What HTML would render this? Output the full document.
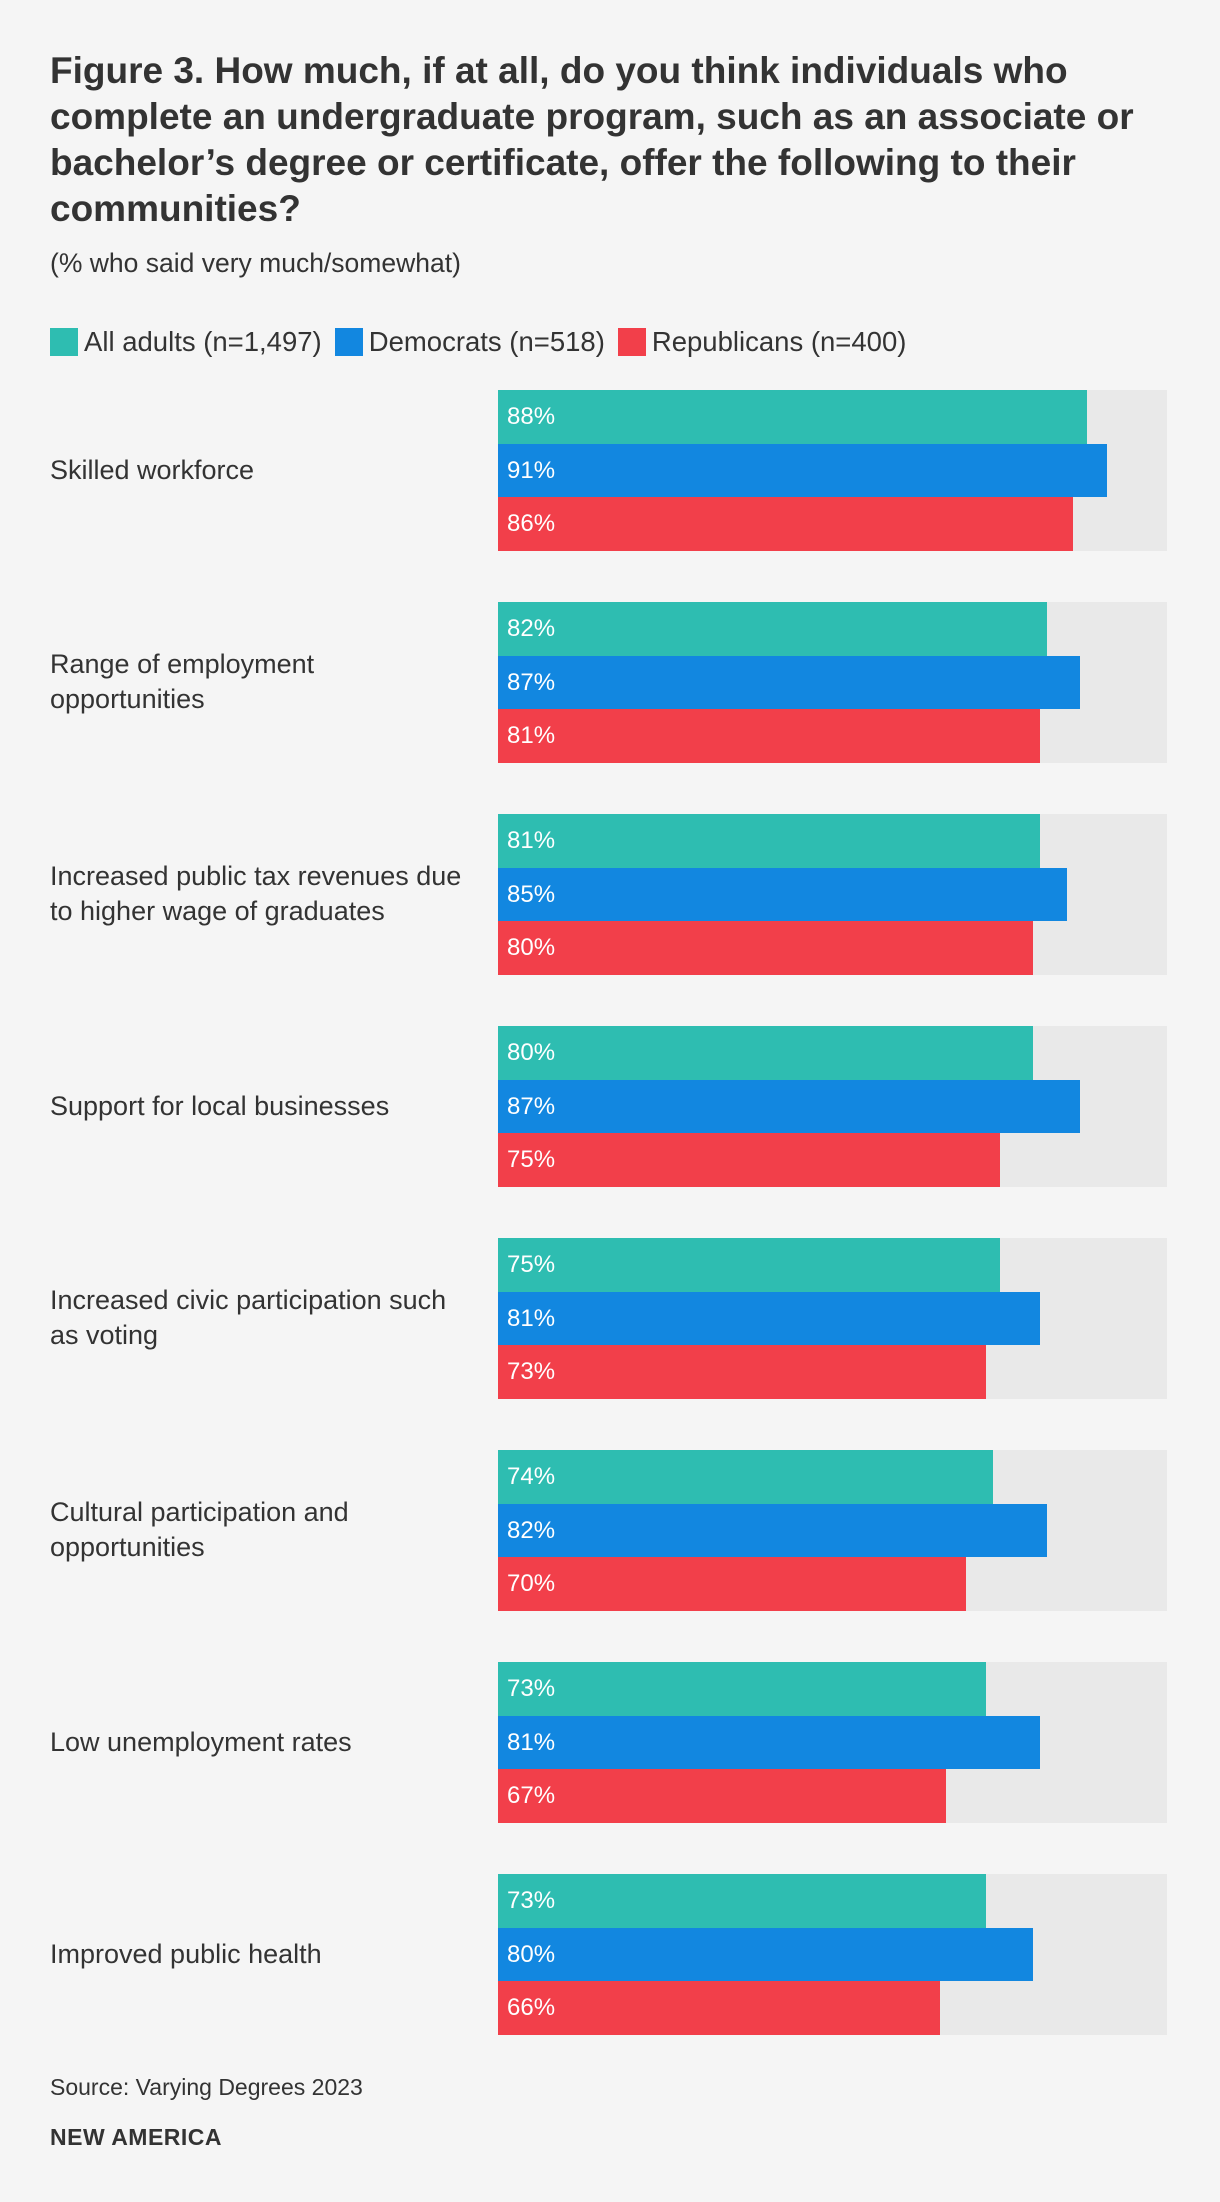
<!DOCTYPE html>
<html><head><meta charset="utf-8">
<style>
body{margin:0;background:#f5f5f5;font-family:"Liberation Sans",sans-serif;color:#333;}
#page{position:relative;width:1220px;height:2202px;overflow:hidden;background:#f5f5f5;}
.title{position:absolute;left:50px;top:48px;font-weight:bold;font-size:37px;line-height:46px;white-space:nowrap;color:#333;}
.sub{position:absolute;left:50px;top:248px;font-size:26.5px;color:#333;}
.legend{position:absolute;left:50px;top:326px;display:flex;align-items:center;font-size:27.5px;}
.legend .sw{width:28px;height:28px;display:inline-block;margin-right:6px;}
.legend .it{display:flex;align-items:center;margin-right:13px;}
.lab{position:absolute;left:50px;width:440px;font-size:27px;line-height:35px;display:flex;align-items:center;}
.val{position:absolute;color:#fff;font-size:24px;}
.src{position:absolute;left:50px;top:2074px;font-size:23px;}
.brand{position:absolute;left:50px;top:2124px;font-size:23px;font-weight:bold;letter-spacing:0.5px;}
</style></head><body>
<div id="page">
<div class="title">Figure 3. How much, if at all, do you think individuals who<br>complete an undergraduate program, such as an associate or<br>bachelor’s degree or certificate, offer the following to their<br>communities?</div>
<div class="sub">(% who said very much/somewhat)</div>
<div class="legend">
<span class="it"><span class="sw" style="background:#2ebdb1"></span>All adults (n=1,497)</span>
<span class="it"><span class="sw" style="background:#1287e0"></span>Democrats (n=518)</span>
<span class="it"><span class="sw" style="background:#f23f4a"></span>Republicans (n=400)</span>
</div>
<div id="chart"></div>
<div class="src">Source: Varying Degrees 2023</div>
<div class="brand">NEW AMERICA</div>
</div>
<script>
const categories=["Skilled workforce","Range of employment<br>opportunities","Increased public tax revenues due<br>to higher wage of graduates","Support for local businesses","Increased civic participation such<br>as voting","Cultural participation and<br>opportunities","Low unemployment rates","Improved public health"];
const allAdults=[88,82,81,80,75,74,73,73];
const democrats=[91,87,85,87,81,82,81,80];
const republicans=[86,81,80,75,73,70,67,66];
const seriesColors=["#2ebdb1","#1287e0","#f23f4a"];
const seriesNames=["all-adults","democrats","republicans"];
const series=[allAdults,democrats,republicans];
const X0=498,W=669,TOP=390,PITCH=212,BH=53.6;
const xScale=v=>v/100*W;
const chart=document.getElementById('chart');
categories.forEach((c,i)=>{
  const gy=TOP+i*PITCH;
  const bg=document.createElement('div');
  
  
  bg.style.cssText=`position:absolute;left:${X0}px;top:${gy}px;width:${W}px;height:${BH*3}px;background:#e9e9e9`;
  chart.appendChild(bg);
  const lab=document.createElement('div');
  lab.className='lab';
  
  
  lab.style.top=gy+'px';lab.style.height=(BH*3)+'px';
  lab.innerHTML='<span>'+c+'</span>';
  chart.appendChild(lab);
  series.forEach((s,j)=>{
    const b=document.createElement('div');
    
    
    b.style.cssText=`position:absolute;left:${X0}px;top:${gy+j*BH}px;width:${xScale(s[i])}px;height:${BH}px;background:${seriesColors[j]}`;
    chart.appendChild(b);
    const v=document.createElement('div');
    v.className='val';
    
    
    v.style.left=(X0+9)+'px';v.style.top=(gy+j*BH+13)+'px';
    v.textContent=s[i]+'%';
    chart.appendChild(v);
  });
});
</script>
</body></html>
